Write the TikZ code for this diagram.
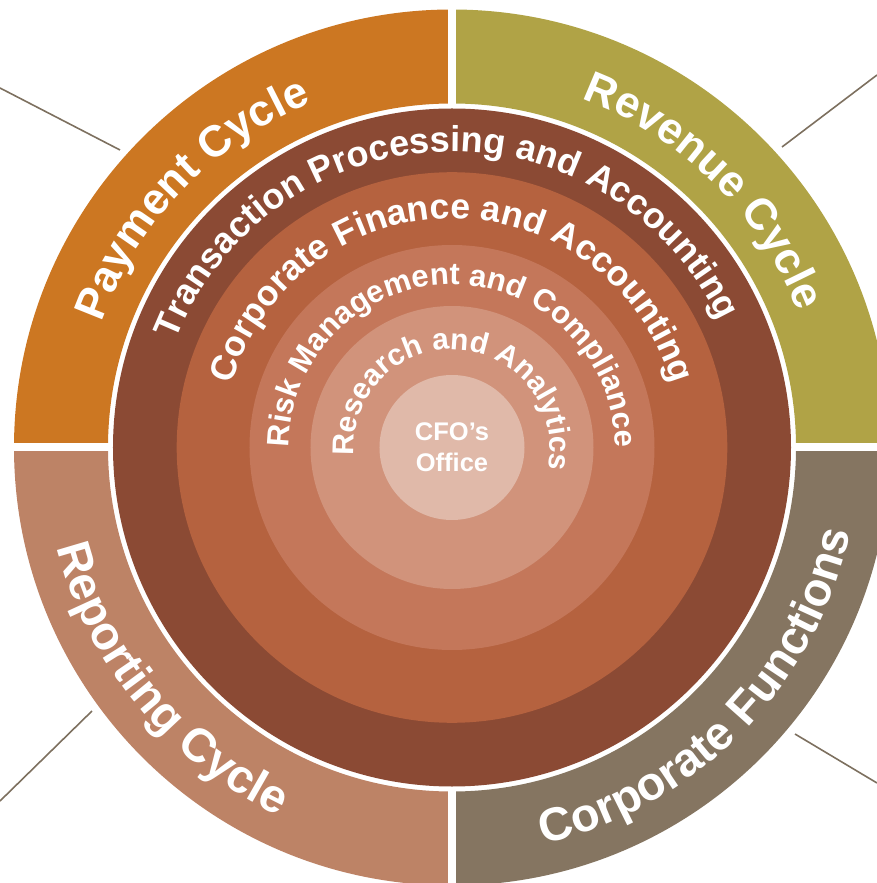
\documentclass[tikz,border=0pt]{standalone}
\usepackage{fontspec}
\setmainfont{Liberation Sans}
\usetikzlibrary{decorations.text}

% palette
\definecolor{paycol}{HTML}{CC7722}
\definecolor{revcol}{HTML}{B0A346}
\definecolor{repcol}{HTML}{BD8366}
\definecolor{funcol}{HTML}{857561}
\definecolor{tpacol}{HTML}{8B4A34}
\definecolor{cfacol}{HTML}{B5623F}
\definecolor{rmccol}{HTML}{C4775A}
\definecolor{racol}{HTML}{D1937B}
\definecolor{cfocol}{HTML}{E0B9A9}
\definecolor{leadcol}{HTML}{7D705F}

% fonts for the curved labels
\newcommand\topfont{\color{white}\bfseries\fontsize{44}{44}\selectfont}
\newcommand\botfont{\color{white}\bfseries\fontsize{47}{47}\selectfont}
\newcommand\tpafont{\color{white}\bfseries\fontsize{36}{36}\selectfont}
\newcommand\cfafont{\color{white}\bfseries\fontsize{35.5}{35.5}\selectfont}
\newcommand\rmcfont{\color{white}\bfseries\fontsize{31}{31}\selectfont}
\newcommand\rafont{\color{white}\bfseries\fontsize{30}{30}\selectfont}

\tikzset{
  arclabel/.style={decorate, decoration={text along path, text align=center, text={#1}}},
  leader/.style={draw=leadcol, line width=1.6pt},
  gap/.style={draw=white, line width=8pt}
}

\begin{document}
\begin{tikzpicture}[x=1pt,y=1pt]
\useasboundingbox (-452,-435.5) rectangle (425,447.5);
\clip (-452,-435.5) rectangle (425,447.5);

% outer ring, four quadrants
\fill[paycol] (90:438) arc[start angle=90,end angle=180,radius=438] -- (180:344) arc[start angle=180,end angle=90,radius=344] -- cycle;
\fill[revcol] (0:438) arc[start angle=0,end angle=90,radius=438] -- (90:344) arc[start angle=90,end angle=0,radius=344] -- cycle;
\fill[repcol] (180:438) arc[start angle=180,end angle=270,radius=438] -- (270:344) arc[start angle=270,end angle=180,radius=344] -- cycle;
\fill[funcol] (270:438) arc[start angle=270,end angle=360,radius=438] -- (0:344) arc[start angle=360,end angle=270,radius=344] -- cycle;
\draw[gap] (90:335) -- (90:460);
\draw[gap] (180:335) -- (180:460);
\draw[gap] (270:335) -- (270:460);
\draw[gap] (0:335) -- (0:460);

% leader lines
\coordinate (tlA) at (-452,359.5);  \coordinate (tlB) at (-332,297.5);
\coordinate (trA) at (425,372.5);   \coordinate (trB) at (330,300.5);
\coordinate (blA) at (-452,-353.5); \coordinate (blB) at (-360,-263.5);
\coordinate (brA) at (425,-335.5);  \coordinate (brB) at (343,-286.5);
\draw[leader] (tlA) -- (tlB);
\draw[leader] (trA) -- (trB);
\draw[leader] (blA) -- (blB);
\draw[leader] (brA) -- (brB);

% nested circles
\fill[tpacol] (0,0) circle[radius=339];
\fill[cfacol] (0,0) circle[radius=275.3];
\fill[rmccol] (0,0) circle[radius=202.5];
\fill[racol]  (0,0) circle[radius=141.5];
\fill[cfocol] (0,0) circle[radius=72.5];

% quadrant labels
\path[arclabel={|\topfont|Payment Cycle}] (226.3:372) arc[start angle=226.3,end angle=46.3,radius=372];
\path[arclabel={|\topfont|Revenue Cycle}] (135.5:372) arc[start angle=135.5,end angle=-44.5,radius=372];
\path[arclabel={|\botfont|Reporting Cycle}] (129.5:407) arc[start angle=129.5,end angle=309.5,radius=407];
\path[arclabel={|\botfont|Corporate Functions}] (-134.5:407) arc[start angle=-134.5,end angle=45.5,radius=407];

% ring labels
\path[arclabel={|\tpafont|Transaction Processing and Accounting}] (182:296) arc[start angle=182,end angle=2,radius=296];
\path[arclabel={|\cfafont|Corporate Finance and Accounting}] (180:229) arc[start angle=180,end angle=0,radius=229];
\path[arclabel={|\rmcfont|Risk Management and Compliance}] (180:163) arc[start angle=180,end angle=0,radius=163];
\path[arclabel={|\rafont|Research and Analytics}] (266:98) arc[start angle=266,end angle=-94,radius=98];

% centre
\node[align=center, text=white, font=\bfseries\fontsize{25.5}{31}\selectfont] (cfo) at (0,0) {CFO’s\\Office};
\end{tikzpicture}
\end{document}
